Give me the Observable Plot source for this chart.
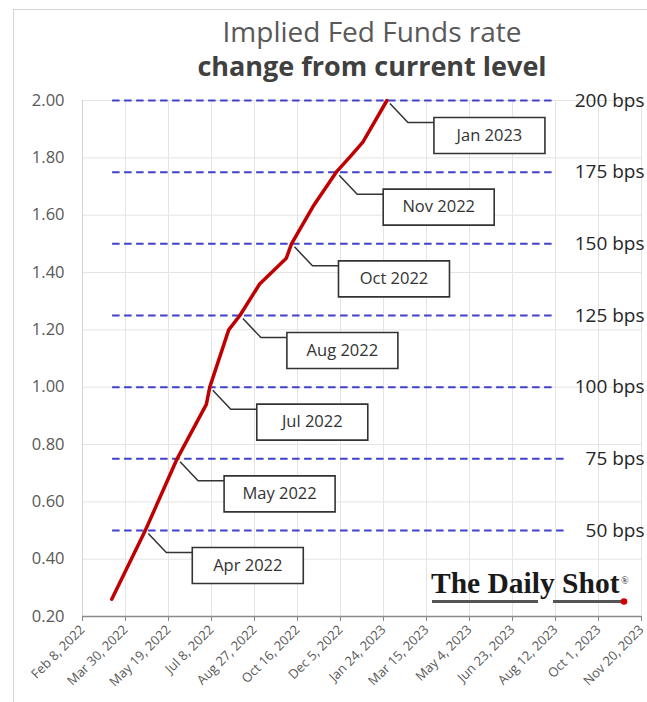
<!DOCTYPE html>
<html>
<head>
<meta charset="utf-8">
<script src="https://cdn.jsdelivr.net/npm/d3@7"></script>
<script src="https://cdn.jsdelivr.net/npm/@observablehq/plot@0.6"></script>
<style>
  body { margin: 0; background: #fff; }
  #wrap { position: relative; width: 647px; height: 702px; overflow: hidden; background: #fff; }
  #frame { position: absolute; left: 13px; top: 9px; width: 700px; height: 760px;
           border-left: 1.5px solid #d6d6d6; border-top: 1.5px solid #d6d6d6; }
  #chart { position: absolute; left: 0; top: 0; }
  #overlay { position: absolute; left: 0; top: 0; pointer-events: none; }
</style>
</head>
<body>
<div id="wrap">
  <div id="frame"></div>
  <div id="chart"></div>
  <svg id="overlay" width="647" height="702">
    <text x="372" y="42" text-anchor="middle" font-family="'Open Sans', sans-serif" font-size="28" fill="#595959">Implied Fed Funds rate</text>
    <text x="372" y="76" text-anchor="middle" font-family="'Open Sans', sans-serif" font-weight="bold" font-size="27" fill="#404040">change from current level</text>
    <text x="431" y="593" font-family="'Liberation Serif', serif" font-weight="bold" font-size="29.5" fill="#1a1a1a">The Daily Shot</text>
    <text x="621" y="584" font-family="'Liberation Serif', serif" font-size="10" fill="#1a1a1a">®</text>
    <line x1="432" y1="601.5" x2="538" y2="601.5" stroke="#555" stroke-width="3"/>
    <line x1="553" y1="601.5" x2="622" y2="601.5" stroke="#555" stroke-width="3"/>
    <circle cx="624" cy="601.5" r="3.3" fill="#d00000"/>
  </svg>
</div>
<script>
// ---- data ----
const xTickDates = ["2022-02-08","2022-03-30","2022-05-19","2022-07-08","2022-08-27","2022-10-16","2022-12-05","2023-01-24","2023-03-15","2023-05-04","2023-06-23","2023-08-12","2023-10-01","2023-11-20"];
const yTicks = [0.2, 0.4, 0.6, 0.8, 1.0, 1.2, 1.4, 1.6, 1.8, 2.0];

const rateDates  = ["2022-03-14","2022-04-22","2022-05-29","2022-07-02","2022-07-06","2022-07-28","2022-08-10","2022-09-02","2022-10-03","2022-10-09","2022-11-03","2022-11-30","2022-12-15","2022-12-31","2023-01-28"];
const rateValues = [0.26, 0.50, 0.75, 0.94, 1.00, 1.20, 1.25, 1.36, 1.45, 1.50, 1.63, 1.75, 1.80, 1.855, 2.00];

const levelValues = [0.50, 0.75, 1.00, 1.25, 1.50, 1.75, 2.00];
const levelLabels = ["50 bps", "75 bps", "100 bps", "125 bps", "150 bps", "175 bps", "200 bps"];
const levelStart = "2022-03-15";
const levelEndLong = "2023-08-12";
const levelEndShort = "2023-08-27";

const calloutLabels = ["Apr 2022", "May 2022", "Jul 2022", "Aug 2022", "Oct 2022", "Nov 2022", "Jan 2023"];
const calloutDates  = ["2022-04-22", "2022-05-29", "2022-07-06", "2022-08-10", "2022-10-09", "2022-11-30", "2023-01-28"];
const calloutLevels = [0.50, 0.75, 1.00, 1.25, 1.50, 1.75, 2.00];

// ---- build tables ----
const xTicks = xTickDates.map(d => new Date(d));
const rate = rateDates.map((d, i) => ({date: new Date(d), value: rateValues[i]}));
const levels = levelValues.map((v, i) => ({
  value: v, label: levelLabels[i],
  x1: new Date(levelStart),
  x2: new Date(levelLabels[i].length > 6 ? levelEndLong : levelEndShort)
}));
const callouts = calloutLabels.map((l, i) => ({label: l, date: new Date(calloutDates[i]), value: calloutLevels[i]}));

const leaderSymbol = {draw(ctx) { ctx.moveTo(3, 3); ctx.lineTo(21, 22); ctx.lineTo(47, 22); }};
const boxSymbol = {draw(ctx) { ctx.rect(47, 17, 111, 36); }};

const chart = Plot.plot({
  width: 647,
  height: 702,
  marginTop: 100,
  marginLeft: 82,
  marginRight: 6,
  marginBottom: 86,
  style: {background: "transparent", fontFamily: "'Open Sans', sans-serif", overflow: "visible"},
  x: {type: "utc", domain: [xTicks[0], xTicks[xTicks.length - 1]]},
  y: {domain: [0.2, 2.0]},
  marks: [
    Plot.gridX(xTicks, {stroke: "#e4e4e4", strokeOpacity: 1}),
    Plot.gridY(yTicks, {stroke: "#e4e4e4", strokeOpacity: 1}),
    Plot.ruleX([xTicks[0]], {stroke: "#d4d4d4"}),
    Plot.axisY(yTicks, {tickFormat: d => d.toFixed(2), tickSize: 0, tickPadding: 18, fontSize: 16.5, fill: "#595959", label: null}),
    Plot.axisX(xTicks, {tickFormat: d3.utcFormat("%b %-d, %Y"), tickRotate: -45, tickSize: 5, tickPadding: 6, stroke: "#8a8a8a", fill: "#595959", fontSize: 13, label: null}),
    Plot.ruleY([0.2], {stroke: "#8a8a8a", strokeWidth: 1.5}),
    Plot.ruleY(levels, {y: "value", x1: "x1", x2: "x2", stroke: "#4040cc", strokeWidth: 2, strokeDasharray: "7.5,4.5"}),
    Plot.text(levels, {x: () => xTicks[xTicks.length - 1], y: "value", text: "label", textAnchor: "end", dx: 3, fontSize: 19, fill: "#262626"}),
    Plot.line(rate, {x: "date", y: "value", stroke: "#c00000", strokeWidth: 3.5, strokeLinejoin: "round", strokeLinecap: "round"}),
    Plot.dot(callouts, {x: "date", y: "value", symbol: leaderSymbol, fill: "none", stroke: "#333", strokeWidth: 1.5, r: 5}),
    Plot.dot(callouts, {x: "date", y: "value", symbol: boxSymbol, fill: "white", stroke: "#333", strokeWidth: 1.6, r: 5}),
    Plot.text(callouts, {x: "date", y: "value", text: "label", dx: 102.5, dy: 35, fontSize: 16.5, fill: "#333"})
  ]
});
document.getElementById("chart").appendChild(chart);
</script>
</body>
</html>
